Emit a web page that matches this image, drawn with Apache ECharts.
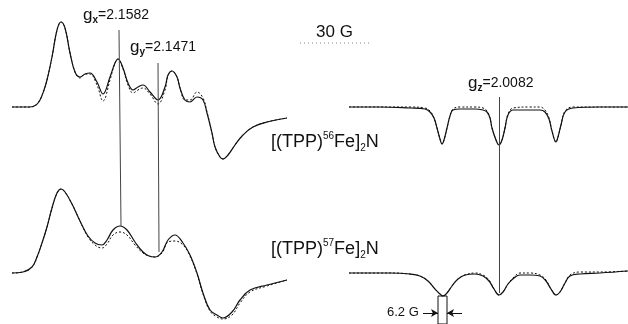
<!DOCTYPE html>
<html>
<head>
<meta charset="utf-8">
<script src="https://cdn.jsdelivr.net/npm/echarts/dist/echarts.min.js"></script>
<style>
html,body{margin:0;padding:0;background:#fff;}
#c{width:628px;height:324px;}
</style>
</head>
<body>
<div id="c"></div>
<script>
// ---- Data (field offset in arbitrary units, derivative intensity in arbitrary units) ----
// Left panels: g_x / g_y region
const leftTopX = [0,18,24,28,32,35,40,45,49,53,58,63,68,73,78,85,91,98,103,106,111,116,121,126,131,138,146,153,156,160,165,168,173,178,185,191,195,200,203,208,211,216,223,231,241,255,275];
const leftTopSolid = [0,0,2,7,17,27,50,77,85,79,54,35,30,33,34,25,13,30,44,48,39,24,17,20,22,15,7,20,32,36,30,19,7,5,10,7,-6,-26,-40,-50,-52,-48,-38,-28,-20,-15,-11];
const leftTopDotted = [0,0,2,7,17,27,50,77,85,79,54,35,29,33,33,22,6,27,44,48,38,22,14,17,19,13,3,17,31,36,30,19,7,7,15,9,-5,-26,-40,-50,-52,-48,-38,-28,-20,-15,-11];

const leftBotX = [0,11,20,25,30,35,40,45,49,53,60,68,76,83,90,95,101,108,115,123,131,137,143,150,156,163,171,178,185,191,198,205,211,220,228,238,255,275];
const leftBotSolid = [-1,0,5,15,29,45,64,79,83,80,68,51,36,29,27,32,42,46,42,30,20,16,15,20,32,37,29,17,-1,-21,-38,-43,-46,-40,-28,-18,-13,-8];
const leftBotDotted = [-1,0,5,15,29,45,64,79,83,80,68,51,35,27,24,28,37,40,37,27,19,16,15,19,30,31,27,16,-2,-22,-39,-45,-47,-43,-31,-20,-14,-8];

// Right panels: g_z region
const rightTopX = [0,31,61,76,81,85,88,91,93,95,98,101,104,111,126,134,138,141,143,147,150,153,156,159,164,181,191,196,200,203,207,209,212,216,224,251,279];
const rightTopSolid = [0,0,-1,-2,-5,-11,-21,-32,-37,-33,-21,-9,-3,-2,-2,-3,-5,-11,-21,-33,-38,-33,-21,-8,-3,-3,-3,-5,-12,-24,-35,-30,-18,-5,-1,0,0];
const rightTopDotted = [0,0,0,-1,-4,-11,-21,-32,-37,-33,-21,-9,-2,0,0,-1,-4,-11,-21,-33,-38,-33,-21,-7,-1,0,0,-3,-11,-24,-35,-30,-18,-4,0,0,0];

const rightBotX = [0,41,61,71,79,86,91,94,98,103,109,116,126,134,140,145,150,154,159,165,171,181,191,197,202,207,211,216,221,231,251,279];
const rightBotSolid = [-1,-1,-2,-4,-9,-17,-22,-24,-21,-14,-7,-3,-2,-4,-9,-17,-23,-20,-12,-6,-3,-3,-4,-9,-17,-23,-20,-11,-4,-2,-1,1];
const rightBotDotted = [-1,-1,-2,-4,-9,-17,-22,-24,-21,-14,-7,-3,-1,-3,-8,-17,-23,-20,-12,-5,-1,-1,-3,-8,-17,-23,-20,-11,-3,0,0,1];

// Marker positions (data units)
const gxLine = [[107,242],[109,46]];
const gyLine = [[146,209],[147,20]];
const gzLine = [[150,175],[150,-21]];
const hfBox = [[89,-24],[98,-52]];
const hfArrowY = -41;

// Labels
const gxLabel = ['g','x','=2.1582'];
const gyLabel = ['g','y','=2.1471'];
const gzLabel = ['g','z','=2.0082'];
const comp56 = ['[(TPP)','56','Fe]','2','N'];
const comp57 = ['[(TPP)','57','Fe]','2','N'];
const scaleLabel = '30 G';
const hfLabel = '6.2 G';

const STACK_OFFSET = 165; // vertical offset of upper spectra

const pair = (xs, ys, off) => xs.map((x, i) => [x, ys[i] + off]);

const FONT = '"Liberation Sans", Arial, sans-serif';
const INK = '#111';

function line(name, gi, data, dotted, extra) {
  return Object.assign({
    name, type: 'line', xAxisIndex: gi, yAxisIndex: gi, data,
    showSymbol: false, symbol: 'none', smooth: 0.4,
    silent: true, animation: false, z: dotted ? 2 : 3,
    lineStyle: { color: INK, width: dotted ? 1 : 1.2, type: dotted ? [2, 2] : 'solid' }
  }, extra || {});
}

const gLabel = (parts) => ({
  text: '{g|' + parts[0] + '}{s|' + parts[1] + '}{t|' + parts[2] + '}',
  rich: {
    g: { fontSize: 17, fontFamily: FONT, fill: INK, lineHeight: 20, verticalAlign: 'middle' },
    s: { fontSize: 10, fontFamily: FONT, fill: INK, lineHeight: 10, verticalAlign: 'bottom', fontWeight: 'bold' },
    t: { fontSize: 14, fontFamily: FONT, fill: INK, lineHeight: 20, verticalAlign: 'middle' }
  }
});
const compLabel = (p) => ({
  text: '{m|' + p[0] + '}{u|' + p[1] + '}{m|' + p[2] + '}{d|' + p[3] + '}{m|' + p[4] + '}',
  rich: {
    m: { fontSize: 18, fontFamily: FONT, fill: INK, lineHeight: 22, verticalAlign: 'middle' },
    u: { fontSize: 10, fontFamily: FONT, fill: INK, lineHeight: 15, verticalAlign: 'top' },
    d: { fontSize: 10, fontFamily: FONT, fill: INK, lineHeight: 10, verticalAlign: 'bottom' }
  }
});

const axisOff = { show: false };
const chart = echarts.init(document.getElementById('c'), null, { renderer: 'canvas' });
chart.setOption({
  animation: false,
  backgroundColor: '#fff',
  grid: [
    { left: 0, top: 0, width: 314, height: 324, containLabel: false },
    { left: 314, top: 0, width: 314, height: 324, containLabel: false }
  ],
  xAxis: [
    { type: 'value', gridIndex: 0, min: -12, max: 302, ...axisOff },
    { type: 'value', gridIndex: 1, min: -35, max: 279, ...axisOff }
  ],
  yAxis: [
    { type: 'value', gridIndex: 0, min: -52, max: 272, ...axisOff },
    { type: 'value', gridIndex: 1, min: -52, max: 272, ...axisOff }
  ],
  series: [
    line('56Fe g_xy sim', 0, pair(leftTopX, leftTopDotted, STACK_OFFSET), true),
    line('56Fe g_xy exp', 0, pair(leftTopX, leftTopSolid, STACK_OFFSET), false),
    line('57Fe g_xy sim', 0, pair(leftBotX, leftBotDotted, 0), true),
    line('57Fe g_xy exp', 0, pair(leftBotX, leftBotSolid, 0), false, {
      markLine: {
        silent: true, symbol: 'none', animation: false,
        label: { show: false },
        lineStyle: { color: '#444', width: 1, type: 'solid' },
        data: [
          [{ coord: gxLine[0] }, { coord: gxLine[1] }],
          [{ coord: gyLine[0] }, { coord: gyLine[1] }]
        ]
      }
    }),
    line('56Fe g_z sim', 1, pair(rightTopX, rightTopDotted, STACK_OFFSET), true),
    line('56Fe g_z exp', 1, pair(rightTopX, rightTopSolid, STACK_OFFSET), false, {
      markLine: {
        silent: true, symbol: 'none', animation: false,
        label: { show: false },
        lineStyle: { color: '#444', width: 1, type: 'solid' },
        data: [[{ coord: gzLine[0] }, { coord: gzLine[1] }]]
      }
    }),
    line('57Fe g_z sim', 1, pair(rightBotX, rightBotDotted, 0), true),
    line('57Fe g_z exp', 1, pair(rightBotX, rightBotSolid, 0), false, {
      markLine: {
        silent: true, symbol: ['none', 'arrow'], symbolSize: [6, 7], animation: false,
        label: { show: false },
        lineStyle: { color: INK, width: 1, type: 'solid' },
        data: [
          [{ coord: [hfBox[0][0] - 15, hfArrowY] }, { coord: [hfBox[0][0], hfArrowY] }],
          [{ coord: [hfBox[1][0] + 15, hfArrowY] }, { coord: [hfBox[1][0], hfArrowY] }]
        ]
      },
      markArea: {
        silent: true, animation: false,
        itemStyle: { color: 'rgba(0,0,0,0)', borderColor: INK, borderWidth: 1 },
        label: { show: false },
        data: [[{ coord: hfBox[0] }, { coord: hfBox[1] }]]
      }
    })
  ],
  graphic: [
    { type: 'text', left: 83, top: 7, style: gLabel(gxLabel) },
    { type: 'text', left: 130, top: 39, style: gLabel(gyLabel) },
    { type: 'text', left: 468, top: 75, style: gLabel(gzLabel) },
    { type: 'text', left: 271, top: 131, style: compLabel(comp56) },
    { type: 'text', left: 271, top: 238, style: compLabel(comp57) },
    { type: 'text', left: 316, top: 24, style: { text: scaleLabel, font: '17px ' + FONT, fill: INK } },
    { type: 'line', shape: { x1: 300, y1: 43, x2: 372, y2: 43 },
      style: { stroke: '#888', lineWidth: 1, lineDash: [1, 3] } },
    { type: 'text', left: 387, top: 306, style: { text: hfLabel, font: '13px ' + FONT, fill: INK } }
  ]
});
</script>
</body>
</html>
